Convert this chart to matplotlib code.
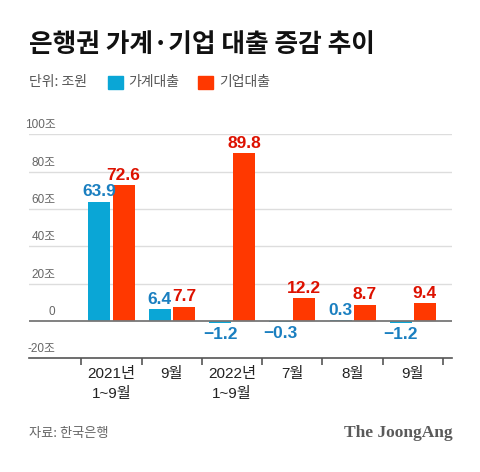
import numpy as np
import matplotlib.pyplot as plt
from matplotlib.patches import Rectangle

plt.rcParams['font.family'] = ['Noto Sans CJK KR', 'DejaVu Sans']

categorias = ['2021년\n1~9월', '9월', '2022년\n1~9월', '7월', '8월', '9월']
gaegye = [63.9, 6.4, -1.2, -0.3, 0.3, -1.2]
gieop = [72.6, 7.7, 89.8, 12.2, 8.7, 9.4]
yticks = [-20, 0, 20, 40, 60, 80, 100]
ytick_labels = ['-20조', '0', '20조', '40조', '60조', '80조', '100조']

azul = '#0aa6d6'
vermelho = '#ff3800'
azul_txt = '#1a7fc0'
verm_txt = '#dd1100'
fonte_num = ['Liberation Sans', 'Noto Sans CJK KR']

fig = plt.figure(figsize=(4.8, 4.72), dpi=100)
ax = fig.add_axes([0.0604, 0.2409, 0.8813, 0.4746])

x = np.arange(len(categorias))
w = 0.365
off = 0.2
ax.bar(x - off, gaegye, w, color=azul, zorder=3)
ax.bar(x + off, gieop, w, color=vermelho, zorder=3)

for i in range(len(x)):
    v = gaegye[i]
    if v >= 0:
        ax.text(x[i] - off, v + 1.2, f'{v:.1f}', ha='center', va='bottom', color=azul_txt,
                fontsize=12.5, fontweight='bold', family=fonte_num, zorder=4)
    else:
        ax.text(x[i] - off, v - 2.2, f'\u2212{abs(v):.1f}', ha='center', va='top', color=azul_txt,
                fontsize=12.5, fontweight='bold', family=fonte_num, zorder=4)
    ax.text(x[i] + off, gieop[i] + 1.2, f'{gieop[i]:.1f}', ha='center', va='bottom', color=verm_txt,
            fontsize=12.5, fontweight='bold', family=fonte_num, zorder=4, clip_on=False)

ax.set_xlim(-1.37, 5.65)
ax.set_ylim(-20, 100)

# grade e rótulos do eixo y
for t in yticks[2:]:
    ax.axhline(t, color='#dddddd', lw=1, zorder=1)
ax.axhline(0, color='#777777', lw=1.3, zorder=3.5)
for t, lab in zip(yticks, ytick_labels):
    ax.text(-0.93, t + 1.5, lab, ha='right', va='bottom', color='#666666', fontsize=8.5,
            family=fonte_num)
ax.set_yticks([])

for s in ['top', 'right', 'left']:
    ax.spines[s].set_visible(False)
ax.spines['bottom'].set_color('#555555')
ax.spines['bottom'].set_linewidth(1.2)

ax.set_xticks(np.arange(-0.5, 6, 1))
ax.set_xticklabels([])
ax.tick_params(axis='x', length=5, width=1.2, color='#555555', direction='out')
for i, lab in enumerate(categorias):
    ax.text(x[i], -24.5, lab, ha='center', va='top', fontsize=11, color='#222222',
            linespacing=1.6, family=fonte_num, clip_on=False)

# título e legenda
fig.text(0.06, 1 - 45 / 472, '은행권 가계·기업 대출 증감 추이', fontsize=18.5, fontweight='bold',
         color='#111111', va='center', ha='left')
fig.text(0.06, 1 - 82 / 472, '단위: 조원', fontsize=10, color='#555555', va='center', ha='left')
fig.patches.append(Rectangle((108 / 480, 1 - 89 / 472), 15 / 480, 13 / 472,
                             transform=fig.transFigure, color=azul))
fig.text(128 / 480, 1 - 82 / 472, '가계대출', fontsize=10, color='#555555', va='center', ha='left')
fig.patches.append(Rectangle((198 / 480, 1 - 89 / 472), 15 / 480, 13 / 472,
                             transform=fig.transFigure, color=vermelho))
fig.text(219 / 480, 1 - 82 / 472, '기업대출', fontsize=10, color='#555555', va='center', ha='left')

# rodapé
fig.text(0.06, 1 - 433 / 472, '자료: 한국은행', fontsize=9.5, color='#666666', va='center', ha='left')
fig.text(453 / 480, 1 - 433 / 472, 'The JoongAng', fontsize=12.5, fontweight='bold',
         family='Liberation Serif', color='#5a5a5a', va='center', ha='right')

fig.savefig('out.png', dpi=100, facecolor='white')
